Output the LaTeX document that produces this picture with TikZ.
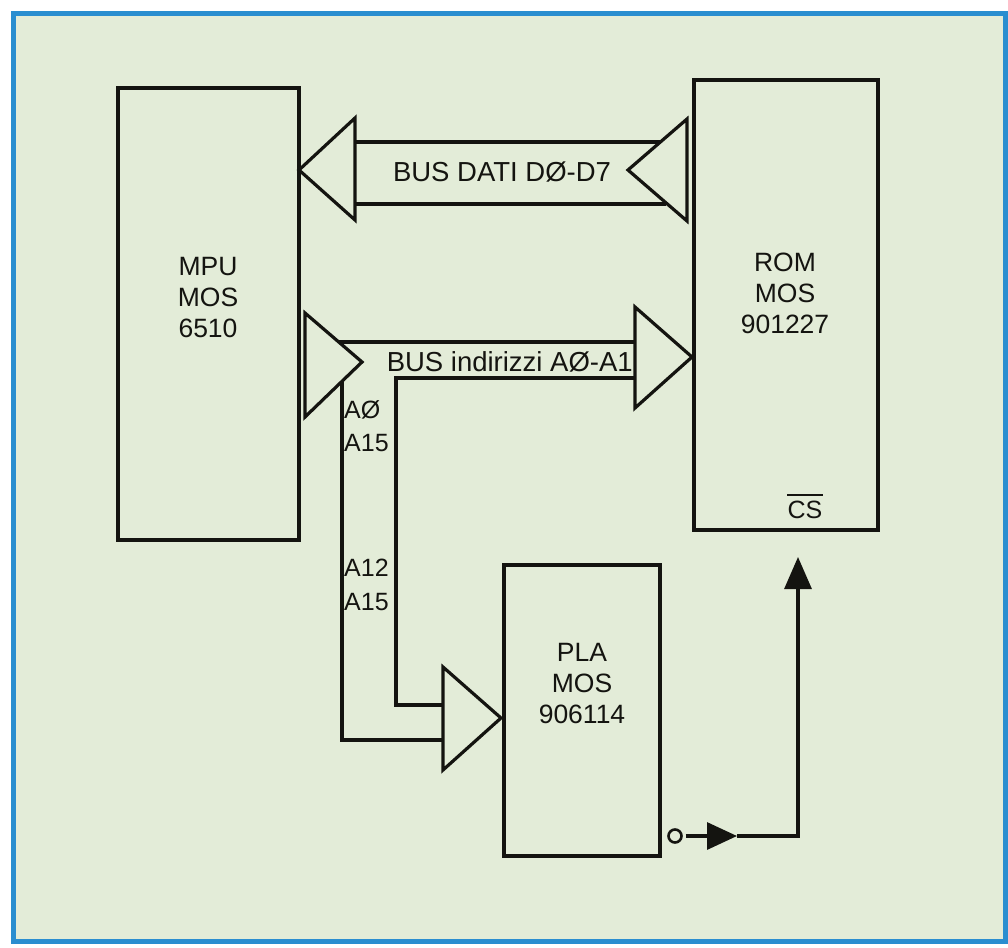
\documentclass[tikz,border=0pt]{standalone}
\usepackage{fontspec}
\setmainfont{Liberation Sans}
\usetikzlibrary{arrows.meta}
\definecolor{bggreen}{HTML}{E3ECD8}
\definecolor{frameblue}{HTML}{2A8ED0}
\definecolor{ink}{HTML}{141410}
\tikzset{
  chip/.style={draw=ink, line width=3.2pt, minimum width=#1, inner sep=0pt},
  wire/.style={draw=ink, line width=3.2pt, line join=miter},
  chiptxt/.style={font=\fontsize{26.5}{31}\selectfont, align=center, text=ink, inner sep=0pt},
  bustxt/.style={font=\fontsize{27.5}{31}\selectfont, text=ink, inner sep=0pt},
  sigtxt/.style={font=\fontsize{25}{29}\selectfont, text=ink, inner sep=0pt, anchor=west},
}
\begin{document}
\begin{tikzpicture}[x=1pt,y=-1pt]
\useasboundingbox (0,0) rectangle (1008,947);
\fill[white] (0,0) rectangle (1008,947);
\draw[frameblue, line width=5pt, fill=bggreen] (13,14) rectangle (1005,941);

% chips
\node[chip=181pt, minimum height=452pt] (mpu) at (208.5,314) {};
\node[chip=184pt, minimum height=450pt] (rom) at (786,305) {};
\node[chip=156pt, minimum height=291pt] (pla) at (582,710.5) {};

\node[chiptxt] (mputxt) at (208,298) {MPU\\MOS\\6510};
\node[chiptxt] (romtxt) at (785,293) {ROM\\MOS\\901227};
\node[chiptxt] (platxt) at (582,684) {PLA\\MOS\\906114};
\node[font=\fontsize{25}{29}\selectfont, text=ink, inner sep=0pt] (cs) at (805,510) {CS};
\draw[ink, line width=2.4pt] ([yshift=6pt]cs.north west) -- ([yshift=6pt]cs.north east);

% data bus
\draw[wire] (355,118) -- (299,170) -- (355,220) -- cycle;
\draw[wire] (687,119) -- (628,170) -- (687,221) -- cycle;
\draw[wire] (355,142) -- (661,142);
\draw[wire] (355,204) -- (666,204);
\node[bustxt] (dbus) at (502,172) {BUS DATI DØ-D7};

% address bus
\draw[wire] (305,313) -- (362,362) -- (305,417) -- cycle;
\draw[wire] (635,307) -- (692,357) -- (635,408) -- cycle;
\draw[wire] (339,342) -- (635,342);
\draw[wire] (635,378) -- (396,378) -- (396,705) -- (443,705);
\draw[wire] (342,381) -- (342,740) -- (443,740);
\draw[wire] (443,667) -- (501,718) -- (443,770) -- cycle;
\node[bustxt, anchor=east] (abus) at (633,362) {BUS indirizzi AØ-A1};

\node[sigtxt] (a0) at (344,410) {AØ};
\node[sigtxt] (a15a) at (344,443) {A15};
\node[sigtxt] (a12) at (344,568) {A12};
\node[sigtxt] (a15b) at (344,602) {A15};

% chip select
\node[circle, draw=ink, line width=2.6pt, minimum size=13pt, inner sep=0pt, outer sep=4pt] (bubble) at (675,836) {};
\coordinate (mid) at (737,836);
\coordinate (corner) at (798,836);
\coordinate (cstip) at (798,557);
\draw[wire, -{Triangle[length=30pt,width=27pt]}] (bubble.east) -- (mid);
\draw[wire, -{Triangle[length=32pt,width=27pt]}] (mid) -- (corner) -- (cstip);
\end{tikzpicture}
\end{document}
